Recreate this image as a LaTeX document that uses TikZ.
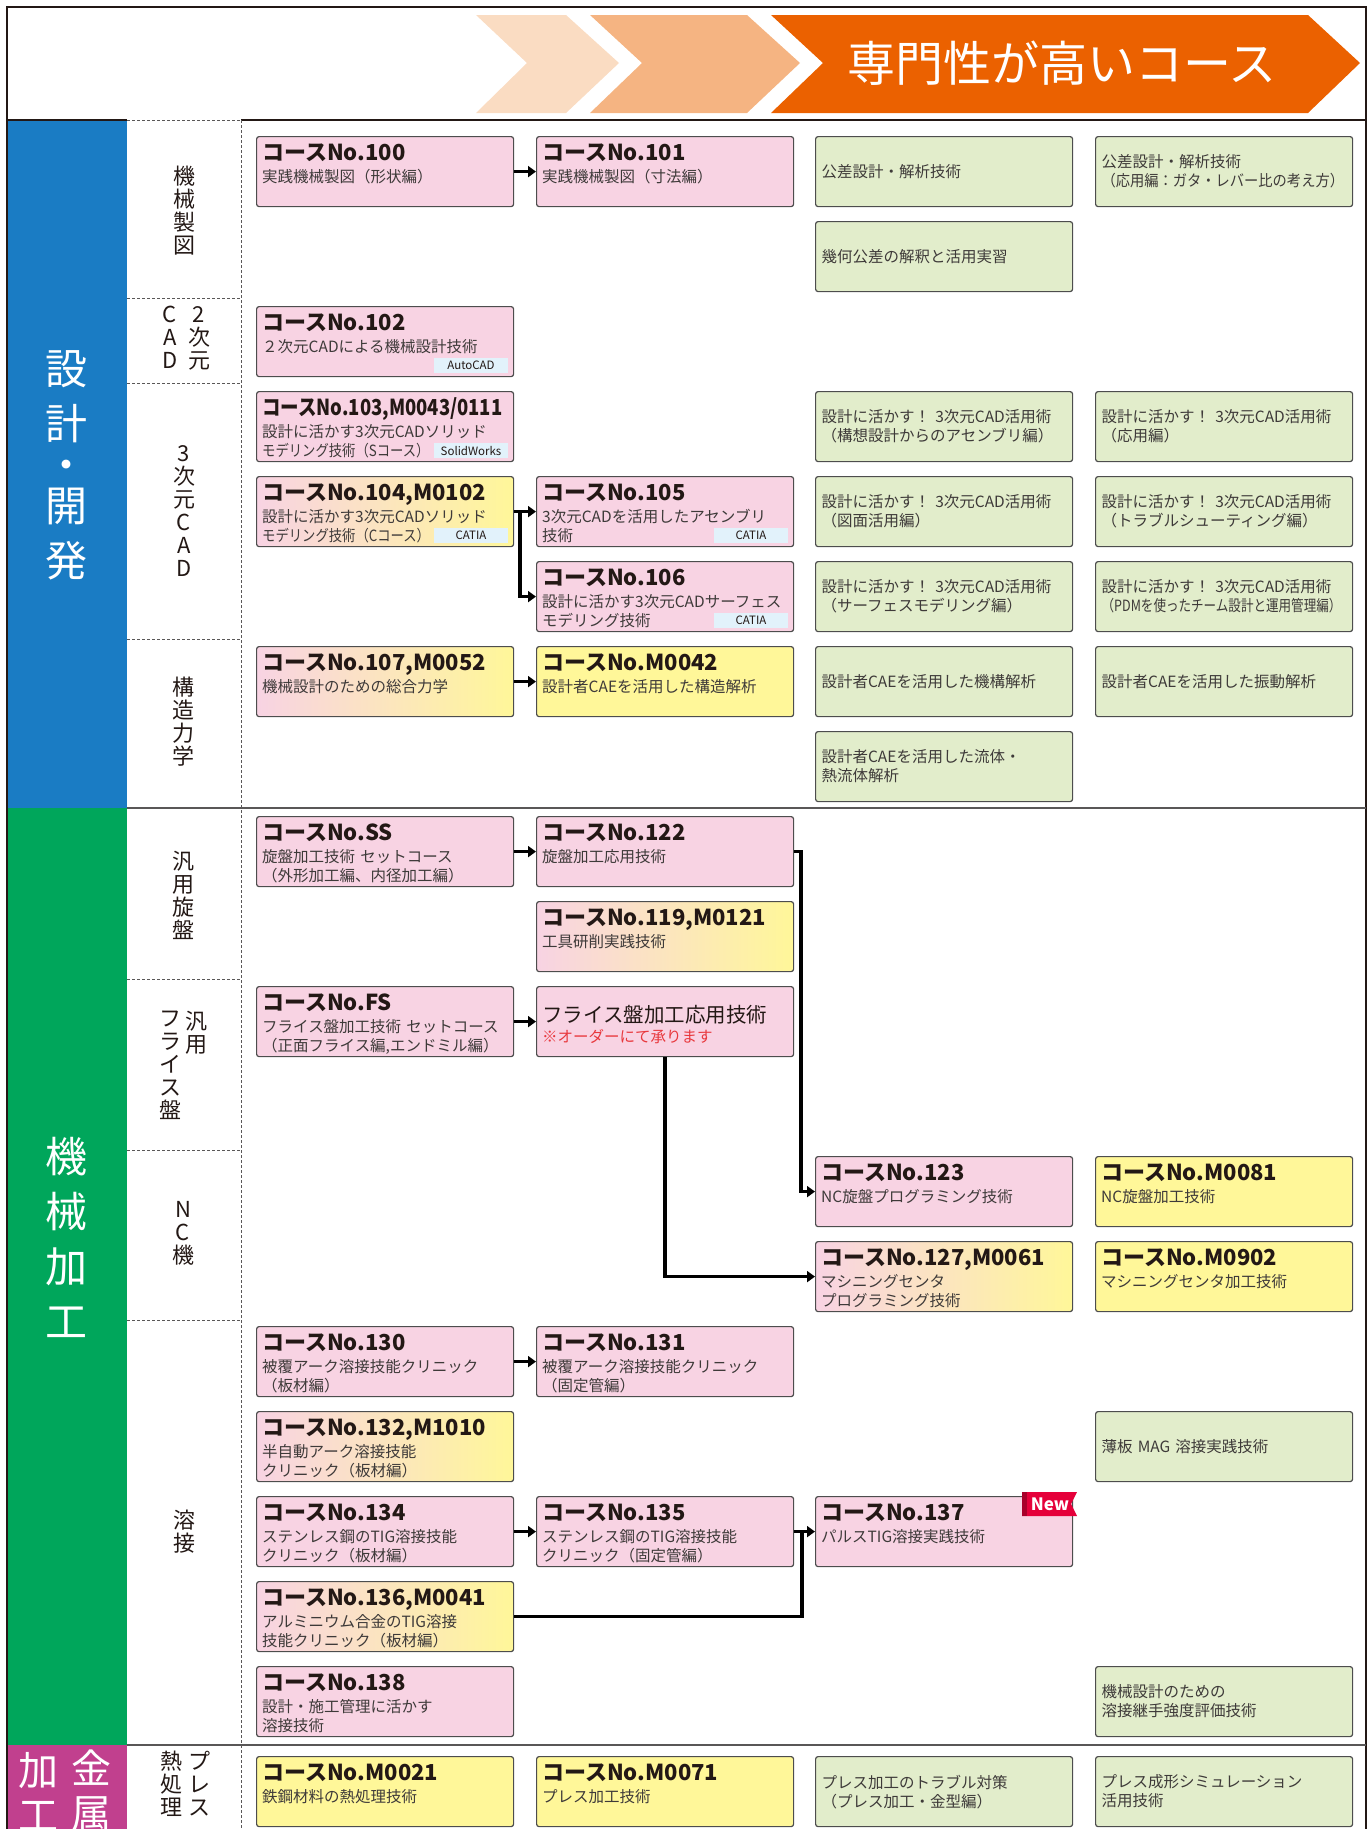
\documentclass[tikz,border=0pt]{standalone}
\usepackage{fontspec}
\setmainfont{Noto Sans CJK JP}
\usetikzlibrary{arrows.meta}

\definecolor{hdA}{HTML}{FADCC2}
\definecolor{hdB}{HTML}{F5B482}
\definecolor{hdC}{HTML}{EB6100}
\definecolor{secblue}{HTML}{1A7CC4}
\definecolor{secgreen}{HTML}{00A65B}
\definecolor{secmag}{HTML}{C1408E}
\definecolor{pinkbox}{HTML}{F8D3E3}
\definecolor{yelbox}{HTML}{FFF799}
\definecolor{grnbox}{HTML}{E2EDCB}
\definecolor{boxline}{HTML}{4D4D4D}
\definecolor{ttltxt}{HTML}{231815}
\definecolor{subtxt}{HTML}{3E3A39}
\definecolor{tagblue}{HTML}{E2F2FB}
\definecolor{ordred}{HTML}{E8383D}
\definecolor{newred}{HTML}{E5003A}
\definecolor{newdark}{HTML}{A8002A}
\definecolor{gridline}{HTML}{595757}

\newcommand{\ttlfont}{\fontsize{22}{24}\selectfont\bfseries}
\newcommand{\subfont}{\fontsize{15.5}{19}\selectfont}
\newcommand{\tagfont}{\fontsize{11.5}{12}\selectfont}
\newcommand{\vfont}{\fontsize{22}{23}\selectfont}
\newcommand{\secfont}{\fontsize{42}{55}\selectfont}

\tikzset{
  cbox/.style={draw=boxline,line width=1.2pt,rounded corners=2.5pt,minimum width=257pt,
    minimum height=70pt,anchor=north west,inner sep=0pt},
  pk/.style={cbox,fill=pinkbox},
  yl/.style={cbox,fill=yelbox},
  py/.style={cbox,left color=pinkbox,right color=yelbox},
  gn/.style={cbox,fill=grnbox,text width=245pt,inner xsep=6pt,align=left,font=\subfont,text=subtxt},
  ctitle/.style={anchor=base west,inner sep=0pt,font=\ttlfont,text=ttltxt},
  csub/.style={anchor=base west,inner sep=0pt,text width=250pt,align=left,font=\subfont,text=subtxt},
  ctag/.style={anchor=south east,fill=tagblue,minimum width=74pt,minimum height=15pt,
    inner sep=0pt,font=\tagfont,text=ttltxt},
  vlbl/.style={align=center,inner sep=0pt,font=\vfont,text=ttltxt},
  slbl/.style={align=center,inner sep=0pt,font=\secfont,text=white},
  arr/.style={line width=3.5pt,-{Triangle[length=8pt,width=11pt]}},
  lnk/.style={line width=3.5pt},
  dashln/.style={draw=gridline,line width=1pt,dash pattern=on 3pt off 2pt},
}

% une case de cours : nom, style, coin, titre, texte
\newcommand{\course}[5]{%
  \node[#2] (#1) at (#3) {};
  \node[ctitle] (#1-t) at ([shift={(6,24)}]#1.north west) {#4};
  \node[csub] (#1-s) at ([shift={(6,46)}]#1.north west) {#5};}

\begin{document}
\begin{tikzpicture}[x=1pt,y=-1pt]
 \useasboundingbox (0,0) rectangle (1370,1829);
 %bandeau du haut
 \fill[hdA] (476,15) -- (566,15) -- (619,63) -- (566,113) -- (476,113) -- (527,63) -- cycle;
 \fill[hdB] (590,15) -- (747,15) -- (800,63) -- (747,113) -- (590,113) -- (642,63) -- cycle;
 \fill[hdC] (771,15) -- (1308,15) -- (1360,63) -- (1308,113) -- (771,113) -- (823,63) -- cycle;
 \node[font=\fontsize{48}{48}\selectfont,text=white,inner sep=0pt] (hdtxt) at (1062,63) {専門性が高いコース};
 %colonne des domaines
 \fill[secblue] (7,120) rectangle (127,808);
 \fill[secgreen] (7,808) rectangle (127,1745);
 \fill[secmag] (7,1745) rectangle (127,1829);
 \node[slbl] (sec-sk) at (66,465) {設\\計\\[-14pt]・\\[-14pt]開\\発};
 \node[slbl] (sec-kk) at (66,1237) {機\\械\\加\\工};
 \node[slbl,font=\fontsize{40}{45}\selectfont] (sec-km1) at (91,1791) {金\\属};
 \node[slbl,font=\fontsize{40}{45}\selectfont] (sec-km2) at (39,1791) {加\\工};
 %cadre
 \draw[ttltxt,line width=1.5pt] (7,1829) -- (7,7) -- (1366,7) -- (1366,1829);
 \draw[ttltxt,line width=2.5pt] (7,120) -- (127,120) (241,120) -- (1366,120);
 \draw[dashln] (127,120) -- (241,120);
 \draw[dashln] (241,120) -- (241,1829);
 \foreach \yy in {298,383,639,979,1150,1320}
   \draw[dashln] (127,\yy) -- (241,\yy);
 \draw[gridline,line width=1.5pt] (127,808) -- (1366,808) (127,1745) -- (1366,1745);
 %sous-domaines
 \node[vlbl] (l-kz) at (184,211) {機\\械\\製\\図};
 \node[vlbl,anchor=north] (l-2da) at (199,306) {2\\次\\元};
 \node[vlbl,anchor=north] (l-2db) at (170,306) {C\\A\\D};
 \node[vlbl] (l-3d) at (184,511) {3\\次\\元\\C\\A\\D};
 \node[vlbl] (l-kr) at (183,722) {構\\造\\力\\学};
 \node[vlbl] (l-hs) at (183,895) {汎\\用\\旋\\盤};
 \node[vlbl,anchor=north] (l-hfa) at (196,1011) {汎\\用};
 \node[vlbl,anchor=north] (l-hfb) at (170,1011) {フ\\ラ\\イ\\ス\\盤};
 \node[vlbl] (l-nc) at (183,1233) {N\\C\\機};
 \node[vlbl] (l-ys) at (184,1532) {溶\\接};
 \node[vlbl,anchor=north] (l-pra) at (199,1751) {プ\\レ\\ス};
 \node[vlbl,anchor=north] (l-prb) at (171,1751) {熱\\処\\理};

 %設計・開発
 \course{c100}{pk}{256,136}{コースNo.100}{実践機械製図（形状編）}
 \course{c101}{pk}{536,136}{コースNo.101}{実践機械製図（寸法編）}
 \course{c102}{pk}{256,306}{コースNo.102}{２次元CADによる機械設計技術}
 \node[ctag] (c102-k) at ([shift={(-6,-4)}]c102.south east) {AutoCAD};
 \course{c103}{pk}{256,391}{\scalebox{0.84}[1]{コースNo.103,M0043/0111}}{設計に活かす3次元CADソリッド\\\scalebox{0.86}[1]{モデリング技術（Sコース）}}
 \node[ctag] (c103-k) at ([shift={(-6,-4)}]c103.south east) {SolidWorks};
 \course{c104}{py}{256,476}{コースNo.104,M0102}{設計に活かす3次元CADソリッド\\\scalebox{0.86}[1]{モデリング技術（Cコース）}}
 \node[ctag] (c104-k) at ([shift={(-6,-4)}]c104.south east) {CATIA};
 \course{c105}{pk}{536,476}{コースNo.105}{3次元CADを活用したアセンブリ\\技術}
 \node[ctag] (c105-k) at ([shift={(-6,-4)}]c105.south east) {CATIA};
 \course{c106}{pk}{536,561}{コースNo.106}{設計に活かす3次元CADサーフェス\\モデリング技術}
 \node[ctag] (c106-k) at ([shift={(-6,-4)}]c106.south east) {CATIA};
 \course{c107}{py}{256,646}{コースNo.107,M0052}{機械設計のための総合力学}
 \course{cM42}{yl}{536,646}{コースNo.M0042}{設計者CAEを活用した構造解析}
 \node[gn] (g0c) at (815,136) {公差設計・解析技術};
 \node[gn] (g0d) at (1095,136) {公差設計・解析技術\\\scalebox{0.92}[1]{（応用編：ガタ・レバー比の考え方）}};
 \node[gn] (g1c) at (815,221) {幾何公差の解釈と活用実習};
 \node[gn] (g3c) at (815,391) {設計に活かす！~3次元CAD活用術\\（構想設計からのアセンブリ編）};
 \node[gn] (g3d) at (1095,391) {設計に活かす！~3次元CAD活用術\\（応用編）};
 \node[gn] (g4c) at (815,476) {設計に活かす！~3次元CAD活用術\\（図面活用編）};
 \node[gn] (g4d) at (1095,476) {設計に活かす！~3次元CAD活用術\\（トラブルシューティング編）};
 \node[gn] (g5c) at (815,561) {設計に活かす！~3次元CAD活用術\\（サーフェスモデリング編）};
 \node[gn] (g5d) at (1095,561) {設計に活かす！~3次元CAD活用術\\\scalebox{0.81}[1]{（PDMを使ったチーム設計と運用管理編）}};
 \node[gn] (g6c) at (815,646) {設計者CAEを活用した機構解析};
 \node[gn] (g6d) at (1095,646) {設計者CAEを活用した振動解析};
 \node[gn] (g7c) at (815,731) {設計者CAEを活用した流体・\\熱流体解析};

 %機械加工
 \course{cSS}{pk}{256,816}{コースNo.SS}{旋盤加工技術~セットコース\\（外形加工編、内径加工編）}
 \course{c122}{pk}{536,816}{コースNo.122}{旋盤加工応用技術}
 \course{c119}{py}{536,901}{コースNo.119,M0121}{工具研削実践技術}
 \course{cFS}{pk}{256,986}{コースNo.FS}{フライス盤加工技術~セットコース\\（正面フライス編,エンドミル編）}
 \node[pk] (cFR) at (536,986) {};
 \node[anchor=base west,inner sep=0pt,font=\fontsize{20.5}{22}\selectfont,text=ttltxt] (cFR-t) at ([shift={(6,36)}]cFR.north west) {フライス盤加工応用技術};
 \node[csub,text=ordred] (cFR-s) at ([shift={(6,56)}]cFR.north west) {※オーダーにて承ります};
 \course{c123}{pk}{815,1156}{コースNo.123}{NC旋盤プログラミング技術}
 \course{cM81}{yl}{1095,1156}{コースNo.M0081}{NC旋盤加工技術}
 \course{c127}{py}{815,1241}{コースNo.127,M0061}{マシニングセンタ\\プログラミング技術}
 \course{cM902}{yl}{1095,1241}{コースNo.M0902}{マシニングセンタ加工技術}
 \course{c130}{pk}{256,1326}{コースNo.130}{被覆アーク溶接技能クリニック\\（板材編）}
 \course{c131}{pk}{536,1326}{コースNo.131}{被覆アーク溶接技能クリニック\\（固定管編）}
 \course{c132}{py}{256,1411}{コースNo.132,M1010}{半自動アーク溶接技能\\クリニック（板材編）}
 \node[gn] (g15d) at (1095,1411) {薄板~MAG~溶接実践技術};
 \course{c134}{pk}{256,1496}{コースNo.134}{ステンレス鋼のTIG溶接技能\\クリニック（板材編）}
 \course{c135}{pk}{536,1496}{コースNo.135}{ステンレス鋼のTIG溶接技能\\クリニック（固定管編）}
 \course{c137}{pk}{815,1496}{コースNo.137}{パルスTIG溶接実践技術}
 \course{c136}{py}{256,1581}{コースNo.136,M0041}{アルミニウム合金のTIG溶接\\技能クリニック（板材編）}
 \course{c138}{pk}{256,1666}{コースNo.138}{設計・施工管理に活かす\\溶接技術}
 \node[gn] (g18d) at (1095,1666) {機械設計のための\\溶接継手強度評価技術};
 %New
 \fill[newred] (1022,1492) -- (1077,1492) -- (1071,1504) -- (1077,1516) -- (1022,1516) -- cycle;
 \fill[newdark] (1022,1492) rectangle (1027,1516);
 \node[font=\fontsize{17}{17}\selectfont\bfseries,text=white,inner sep=0pt] (c137-new) at (1050,1504) {New};

 %金属加工
 \course{cM21}{yl}{256,1756}{コースNo.M0021}{鉄鋼材料の熱処理技術}
 \course{cM71}{yl}{536,1756}{コースNo.M0071}{プレス加工技術}
 \node[gn] (g19c) at (815,1756) {プレス加工のトラブル対策\\（プレス加工・金型編）};
 \node[gn] (g19d) at (1095,1756) {プレス成形シミュレーション\\活用技術};

 %flèches
 \draw[arr] (c100.east) -- (c101.west);
 \draw[arr] (c104.east) -- (c105.west);
 \draw[arr] ([xshift=6pt]c104.east) |- (c106.west);
 \draw[arr] (c107.east) -- (cM42.west);
 \draw[arr] (cSS.east) -- (c122.west);
 \draw[arr] (c122.east) -- ++(7,0) |- (c123.west);
 \draw[arr] (cFS.east) -- (cFR.west);
 \draw[arr] (cFR.south) |- (c127.west);
 \draw[arr] (c130.east) -- (c131.west);
 \draw[arr] (c134.east) -- (c135.west);
 \draw[arr] (c135.east) -- (c137.west);
 \draw[lnk] (c136.east) -| ([xshift=8pt]c135.east);
\end{tikzpicture}
\end{document}
